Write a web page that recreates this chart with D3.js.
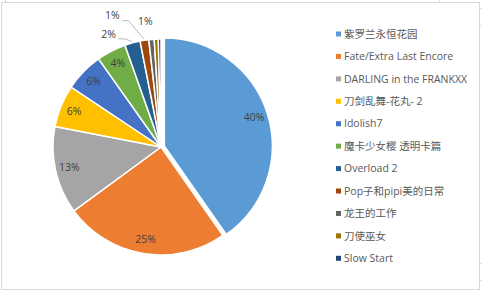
<!DOCTYPE html>
<html>
<head>
<meta charset="utf-8">
<script src="https://cdn.jsdelivr.net/npm/d3@7"></script>
<style>
  html, body { margin: 0; padding: 0; background: #fff; }
  svg { display: block; }
  text { font-family: "Open Sans", "Noto Sans CJK SC", sans-serif; }
</style>
</head>
<body>
<svg id="chart" width="482" height="291"></svg>
<script>
const categories = [
  "紫罗兰永恒花园",
  "Fate/Extra Last Encore",
  "DARLING in the FRANKXX",
  "刀剑乱舞-花丸- 2",
  "Idolish7",
  "魔卡少女樱 透明卡篇",
  "Overload 2",
  "Pop子和pipi美的日常",
  "龙王的工作",
  "刀使巫女",
  "Slow Start"
];
const values = [40.2, 24.6, 13.1, 6.3, 5.8, 4.4, 2.3, 1.3, 0.8, 0.6, 0.4];
const colors = ["#5B9BD5", "#ED7D31", "#A5A5A5", "#FFC000", "#4472C4", "#70AD47",
                "#255E91", "#9E480E", "#636363", "#997300", "#264478"];
const labelCount = 9; // slices with a data label

const svg = d3.select("#chart");

// chart frame
svg.append("rect").attr("x", 1.5).attr("y", 2.5).attr("width", 478).attr("height", 287)
  .attr("fill", "#fff").attr("stroke", "#d9d9d9").attr("stroke-width", 1);
const grid = svg.append("g").attr("stroke", "#e0e0e0").attr("stroke-width", 1);
[5.5, 439.5].forEach(x => grid.append("line").attr("x1", x).attr("x2", x).attr("y1", 0).attr("y2", 2));
[8.5, 25.5, 263.5, 280.5].forEach(y => grid.append("line").attr("x1", 480).attr("x2", 482).attr("y1", y).attr("y2", y));

const cx = 161, cy = 147, R = 108;
const total = d3.sum(values);
const data = categories.map((c, i) => ({ name: c, value: values[i], color: colors[i], i }));

const pie = d3.pie().sort(null).value(d => d.value);
const arcs = pie(data);
const arc = d3.arc().innerRadius(0).outerRadius(R);
const g = svg.append("g").attr("transform", `translate(${cx},${cy})`);

const explode = d => d.data.i === 0 ? 3.5 : 0;
const mid = d => (d.startAngle + d.endAngle) / 2;

g.selectAll("path.slice").data(arcs).join("path")
  .attr("class", "slice")
  .attr("d", arc)
  .attr("fill", d => d.data.color)
  .attr("stroke", "#fff")
  .attr("stroke-width", 1.5)
  .attr("stroke-linejoin", "round")
  .attr("transform", d => {
    const e = explode(d), a = mid(d);
    return `translate(${e * Math.sin(a)},${-e * Math.cos(a)})`;
  });

const pct = d => d3.format(".0%")(d.data.value / total);
const labelArc = d3.arc().innerRadius(94).outerRadius(94);

// inside labels
const inside = arcs.filter(d => d.data.i < 6);
g.selectAll("text.in").data(inside).join("text")
  .attr("class", "in")
  .attr("x", d => labelArc.centroid(d)[0] + explode(d) * Math.sin(mid(d)))
  .attr("y", d => labelArc.centroid(d)[1] - explode(d) * Math.cos(mid(d)))
  .attr("dy", "0.35em")
  .attr("text-anchor", "middle")
  .attr("font-size", 10.5)
  .attr("fill", "#404040")
  .text(pct);

// outside labels for the thin slices: [angle shift (rad), radius, leader]
const outsidePlacement = { 6: [-0.17, 124, true], 7: [-0.20, 140, true], 8: [-0.035, 127, false] };
const outside = arcs.filter(d => d.data.i >= 6 && d.data.i < labelCount);
const polar = (a, r) => [r * Math.sin(a), -r * Math.cos(a)];

outside.forEach(d => {
  const [shift, r, leader] = outsidePlacement[d.data.i];
  const a = mid(d) + shift;
  const [lx, ly] = polar(a, r);
  if (leader) {
    const edge = polar(mid(d), R + 1);
    const start = [lx + 10, ly + (d.data.i === 7 ? 5 : 4)];
    const pts = d.data.i === 7
      ? [start, [start[0] + 6, start[1]], edge]
      : [start, [start[0] + 8, start[1] + 0.5], edge];
    g.append("polyline")
      .attr("points", pts.map(p => p.join(",")).join(" "))
      .attr("fill", "none").attr("stroke", "#a6a6a6").attr("stroke-width", 0.8);
  }
  g.append("text")
    .attr("x", lx).attr("y", ly).attr("dy", "0.35em")
    .attr("text-anchor", "middle")
    .attr("font-size", 10.5)
    .attr("fill", "#404040")
    .text(pct(d));
});

// legend
const legend = svg.append("g").attr("transform", "translate(336,34)");
const rowH = 22.43;
const items = legend.selectAll("g").data(data).join("g")
  .attr("transform", (d, i) => `translate(0,${i * rowH})`);
items.append("rect").attr("x", 0).attr("y", -2.5).attr("width", 5).attr("height", 5)
  .attr("fill", d => d.color);
items.append("text").attr("x", 8).attr("y", 0).attr("dy", "0.35em")
  .attr("font-size", 10.5).attr("fill", "#595959")
  .text(d => d.name);
</script>
</body>
</html>
